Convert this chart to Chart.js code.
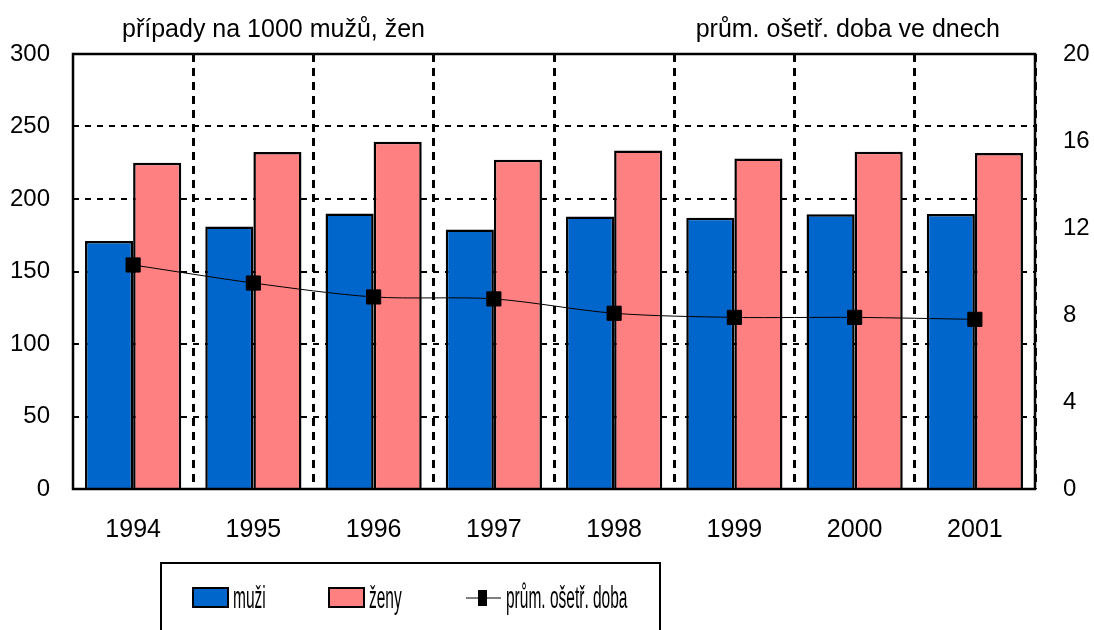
<!DOCTYPE html>
<html>
<head>
<meta charset="utf-8">
<script src="https://cdn.jsdelivr.net/npm/chart.js@4.4.0/dist/chart.umd.min.js"></script>
<style>
html,body{margin:0;padding:0;background:#fff;}
#wrap{width:1094px;height:630px;position:relative;}
</style>
</head>
<body>
<div id="wrap"><canvas id="c" width="1094" height="630"></canvas></div>
<script>
const categories = ['1994','1995','1996','1997','1998','1999','2000','2001'];
const muzi = [171, 181, 190, 179, 188, 187, 189.5, 189.7];
const zeny = [225, 232.5, 239.5, 227, 233.5, 228, 232.6, 231.7];
const doba = [10.3, 9.47, 8.83, 8.74, 8.08, 7.89, 7.89, 7.80];
const leftTicksMax = 300, leftStep = 50;
const rightTicksMax = 20, rightStep = 4;
const titleLeft = 'případy na 1000 mužů, žen';
const titleRight = 'prům. ošetř. doba ve dnech';
const FONT = '"Liberation Sans", Arial, sans-serif';

const decor = {
  id: 'decor',
  afterDraw(chart) {
    const ctx = chart.ctx;
    const a = chart.chartArea;
    ctx.save();
    ctx.strokeStyle = '#000';
    ctx.lineWidth = 2.5;
    ctx.setLineDash([]);
    ctx.strokeRect(a.left, a.top, a.right - a.left, a.bottom - a.top);
    ctx.fillStyle = '#000';
    ctx.font = '25px ' + FONT;
    ctx.textBaseline = 'alphabetic';
    ctx.textAlign = 'left';
    ctx.fillText(titleLeft, 122, 37);
    ctx.textAlign = 'right';
    ctx.fillText(titleRight, 1000, 37);
    ctx.lineWidth = 2;
    ctx.strokeRect(161, 563, 499, 90);
    const ds = chart.data.datasets;
    const sx = 0.5;
    function label(text, x, y) {
      ctx.save();
      ctx.translate(x, y);
      ctx.scale(sx, 1);
      ctx.font = '31px ' + FONT;
      ctx.textAlign = 'left';
      ctx.fillStyle = '#000';
      ctx.fillText(text, 0, 0);
      ctx.restore();
    }
    const swatches = [[193, ds[0]], [329, ds[1]]];
    swatches.forEach(([x, d]) => {
      ctx.fillStyle = d.backgroundColor;
      ctx.fillRect(x, 588, 35, 19);
      ctx.strokeStyle = '#000';
      ctx.lineWidth = 2;
      ctx.strokeRect(x, 588, 35, 19);
      label(d.label, x + 40, 608);
    });
    ctx.strokeStyle = '#000';
    ctx.lineWidth = 1;
    ctx.beginPath();
    ctx.moveTo(466, 598);
    ctx.lineTo(501, 598);
    ctx.stroke();
    ctx.fillStyle = '#000';
    ctx.fillRect(478, 590, 9, 16);
    label(ds[2].label, 506, 608);
    ctx.restore();
  }
};

new Chart(document.getElementById('c'), {
  type: 'bar',
  data: {
    labels: categories,
    datasets: [
      { label: 'muži', data: muzi, backgroundColor: '#0066CC', borderColor: '#000', borderWidth: 2.5,
        categoryPercentage: 0.8, barPercentage: 1.0, yAxisID: 'y', order: 2 },
      { label: 'ženy', data: zeny, backgroundColor: '#FF8080', borderColor: '#000', borderWidth: 2.5,
        categoryPercentage: 0.8, barPercentage: 1.0, yAxisID: 'y', order: 2 },
      { type: 'line', label: 'prům. ošetř. doba', data: doba, yAxisID: 'y1', order: 0,
        borderColor: '#000', borderWidth: 1, tension: 0.3,
        pointStyle: 'rect', pointRadius: 10, pointHoverRadius: 10,
        pointBackgroundColor: '#000', pointBorderColor: '#000', pointBorderWidth: 1 }
    ]
  },
  options: {
    responsive: false,
    animation: false,
    events: [],
    layout: { padding: { top: 54, left: 0, right: 0, bottom: 0 } },
    plugins: { legend: { display: false }, tooltip: { enabled: false }, title: { display: false } },
    scales: {
      x: {
        offset: true,
        grid: { display: true, offset: true, lineWidth: 3, drawTicks: false,
          color: (c) => (c.index === 0 || c.index === categories.length) ? 'rgba(0,0,0,0)' : '#000' },
        border: { display: false, dash: [8, 6] },
        ticks: { color: '#000', font: { family: FONT, size: 25 }, padding: 26, maxRotation: 0 },
        afterFit(s) { s.height = 141; }
      },
      y: {
        position: 'left', min: 0, max: leftTicksMax,
        grid: { color: '#000', lineWidth: 2, drawTicks: false },
        border: { display: false, dash: [6, 6] },
        ticks: { stepSize: leftStep, color: '#000', font: { family: FONT, size: 24 }, padding: 23 },
        afterFit(s) { s.width = 73; }
      },
      y1: {
        position: 'right', min: 0, max: rightTicksMax,
        grid: { display: false, drawTicks: false },
        border: { display: false },
        ticks: { stepSize: rightStep, color: '#000', font: { family: FONT, size: 24 }, padding: 28 },
        afterFit(s) { s.width = 59; }
      }
    }
  },
  plugins: [decor]
});
</script>
</body>
</html>
